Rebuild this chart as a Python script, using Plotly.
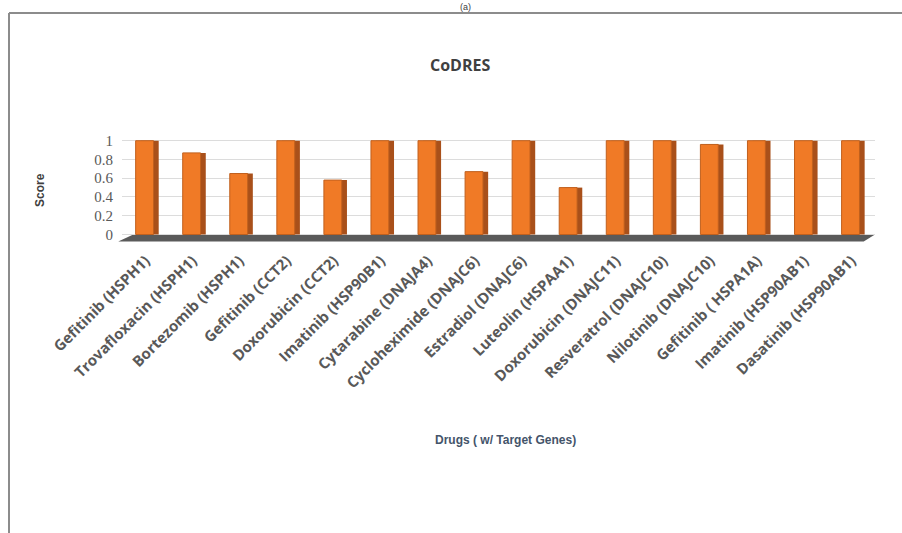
import plotly.graph_objects as go

# CoDRES scores per drug (with its target gene)
drugs = [
    "Gefitinib (HSPH1)", "Trovafloxacin (HSPH1)", "Bortezomib (HSPH1)",
    "Gefitinib (CCT2)", "Doxorubicin (CCT2)", "Imatinib (HSP90B1)",
    "Cytarabine (DNAJA4)", "Cycloheximide (DNAJC6)", "Estradiol (DNAJC6)",
    "Luteolin (HSPAA1)", "Doxorubicin (DNAJC11)", "Resveratrol (DNAJC10)",
    "Nilotinib (DNAJC10)", "Gefitinib ( HSPA1A)", "Imatinib (HSP90AB1)",
    "Dasatinib (HSP90AB1)",
]
scores = [1.0, 0.87, 0.65, 1.0, 0.58, 1.0, 1.0, 0.67, 1.0, 0.50,
          1.0, 1.0, 0.96, 1.0, 1.0, 1.0]
y_ticks = [0, 0.2, 0.4, 0.6, 0.8, 1]
y_labels = ["0", "0.2", "0.4", "0.6", "0.8", "1"]

ORANGE = "#F07A26"
ORANGE_DARK = "#A9501A"
TEXT = "#595959"

fig = go.Figure()

# darker side face, peeking out to the right of each column
fig.add_trace(go.Bar(
    x=drugs, y=scores, width=0.38, offset=-0.10,
    marker=dict(color=ORANGE_DARK, line=dict(width=0)),
    hoverinfo="skip", showlegend=False,
))
# front face of each column
fig.add_trace(go.Bar(
    x=drugs, y=scores, width=0.38, offset=-0.21,
    marker=dict(color=ORANGE, line=dict(color="#C0601E", width=1)),
    showlegend=False,
))

# plot area geometry in pixels (used for the frame in paper units)
L, R, T, B = 122, 27, 136, 291
W, H = 902, 533
pw, ph = W - L - R, H - T - B


def px_x(px):
    return (px - L) / pw


def px_y(py):
    return (H - B - py) / ph


shapes = [
    # dark floor under the columns
    dict(type="path", xref="x domain", yref="y",
         path="M -0.005,-0.075 L 0.985,-0.075 L 1.0,0.0 L 0.015,0.0 Z",
         fillcolor="#5A5A5A", line=dict(width=0), layer="below"),
    # outer chart frame (left and top edges)
    dict(type="line", xref="paper", yref="paper",
         x0=px_x(9), x1=px_x(9), y0=px_y(540), y1=px_y(13),
         line=dict(color="#8C8C8C", width=2)),
    dict(type="line", xref="paper", yref="paper",
         x0=px_x(9), x1=px_x(905), y0=px_y(13), y1=px_y(13),
         line=dict(color="#8C8C8C", width=2)),
]

annotations = [
    dict(text="(a)", xref="paper", yref="paper", x=px_x(465), y=px_y(0),
         xanchor="center", yanchor="top", showarrow=False,
         font=dict(family="Liberation Sans", size=9, color="#404040")),
    dict(text="<b>CoDRES</b>", xref="paper", yref="paper",
         x=px_x(460), y=px_y(65), xanchor="center", yanchor="middle",
         showarrow=False,
         font=dict(family="Open Sans", size=16, color="#404040")),
    dict(text="<b>Drugs ( w/ Target Genes)</b>", xref="paper", yref="paper",
         x=px_x(505), y=px_y(440), xanchor="center", yanchor="middle",
         showarrow=False,
         font=dict(family="Liberation Sans", size=12, color="#44546A")),
    dict(text="<b>Score</b>", xref="paper", yref="paper",
         x=px_x(40), y=px_y(190), xanchor="center", yanchor="middle",
         textangle=-90, showarrow=False,
         font=dict(family="Liberation Sans", size=12, color="#404040")),
]

fig.update_layout(
    width=W, height=H,
    margin=dict(l=L, r=R, t=T, b=B, pad=0),
    paper_bgcolor="white", plot_bgcolor="white",
    barmode="overlay", bargap=0.5,
    shapes=shapes, annotations=annotations,
    xaxis=dict(
        type="category", range=[-0.5, len(drugs) - 0.5],
        tickangle=-45, showgrid=False, showline=False, ticks="",
        tickfont=dict(family="Open Sans", size=15, color=TEXT, weight="bold"),
        ticklabelstandoff=6, fixedrange=True,
    ),
    yaxis=dict(
        range=[-0.08, 1.05], tickvals=y_ticks, ticktext=y_labels,
        showgrid=True, gridcolor="#DCDCDC", gridwidth=1,
        zeroline=False, showline=False, ticks="",
        tickfont=dict(family="Liberation Serif", size=15, color=TEXT),
        ticklabelstandoff=8, fixedrange=True,
    ),
    font=dict(family="Liberation Sans"),
)

fig.write_html("out.html")
